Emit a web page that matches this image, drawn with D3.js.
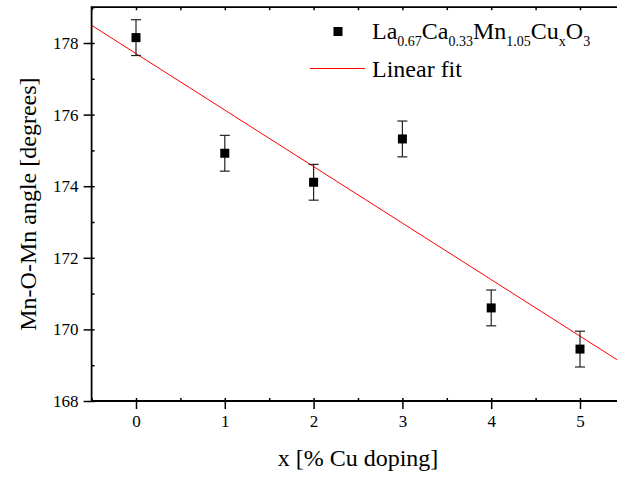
<!DOCTYPE html>
<html><head><meta charset="utf-8">
<script src="https://cdn.jsdelivr.net/npm/d3@7"></script>
<style>body{margin:0;background:#fff}svg{display:block}text{font-family:"Liberation Serif","Times New Roman",serif;fill:#000}</style>
</head><body>
<svg id="c" width="617" height="477"></svg>
<script>
const xValues = [0, 1, 2, 3, 4, 5];
const angleValues = [178.15, 174.92, 174.11, 175.32, 170.6, 169.45];
const angleErrors = [0.5, 0.5, 0.5, 0.5, 0.5, 0.5];
const xTicks = [0, 1, 2, 3, 4, 5];
const yTicks = [168, 170, 172, 174, 176, 178];

const svg = d3.select("#c");
const x = d3.scaleLinear().domain([-0.5, 5.5]).range([91.6, 624.4]);
const y = d3.scaleLinear().domain([168, 179]).range([401, 7.2]);

// least squares fit
const mx = d3.mean(xValues), my = d3.mean(angleValues);
let sxy = 0, sxx = 0;
xValues.forEach((v, i) => { sxy += (v - mx) * (angleValues[i] - my); sxx += (v - mx) * (v - mx); });
const slope = sxy / sxx, intercept = my - slope * mx;
const fitX = [-0.5, 5.5];

svg.append("path")
  .attr("d", d3.line().x(d => x(d)).y(d => y(intercept + slope * d))(fitX))
  .attr("stroke", "#ff0000").attr("stroke-width", 1).attr("fill", "none");

const minorX = d3.range(-0.5, 5.51, 0.5);
const minorY = d3.range(168, 179.01, 1);
function styleAxis(g) {
  g.select(".domain").remove();
  g.attr("font-family", '"Liberation Serif", serif').attr("font-size", 17);
  g.selectAll(".tick line").attr("stroke", "#000").attr("stroke-width", 1.5);
  g.selectAll(".tick text").attr("fill", "#000").attr("font-family", '"Liberation Serif", serif').attr("font-size", 17);
}
const gB = svg.append("g").attr("transform", `translate(0,${y(168)})`);
gB.append("g").call(d3.axisBottom(x).tickValues(minorX).tickSize(-3).tickFormat("")).call(styleAxis);
gB.append("g").call(d3.axisBottom(x).tickValues(xTicks).tickSize(8).tickPadding(6).tickFormat(d3.format("d"))).call(styleAxis);
const gT = svg.append("g").attr("transform", `translate(0,${y(179)})`);
gT.append("g").call(d3.axisTop(x).tickValues(minorX).tickSize(-3).tickFormat("")).call(styleAxis);
const gL = svg.append("g").attr("transform", `translate(${x(-0.5)},0)`);
gL.append("g").call(d3.axisLeft(y).tickValues(minorY).tickSize(-3).tickFormat("")).call(styleAxis);
gL.append("g").call(d3.axisLeft(y).tickValues(yTicks).tickSize(8).tickPadding(5).tickFormat(d3.format("d"))).call(styleAxis);

const frame = svg.append("g").attr("stroke", "#000").attr("stroke-width", 1.8).attr("fill", "none");
frame.append("line").attr("x1", x(-0.5)).attr("x2", x(5.5)).attr("y1", y(168)).attr("y2", y(168));
frame.append("line").attr("x1", x(-0.5)).attr("x2", x(5.5)).attr("y1", y(179)).attr("y2", y(179));
frame.append("line").attr("x1", x(-0.5)).attr("x2", x(-0.5)).attr("y1", y(168) + 0.9).attr("y2", y(179) - 0.9);

// error bars
const eb = svg.append("g").attr("stroke", "#222").attr("stroke-width", 1.2);
xValues.forEach((v, i) => {
  const cx = x(v), y1 = y(angleValues[i] + angleErrors[i]), y2 = y(angleValues[i] - angleErrors[i]);
  eb.append("line").attr("x1", cx).attr("x2", cx).attr("y1", y1).attr("y2", y2);
  eb.append("line").attr("x1", cx - 5).attr("x2", cx + 5).attr("y1", y1).attr("y2", y1);
  eb.append("line").attr("x1", cx - 5).attr("x2", cx + 5).attr("y1", y2).attr("y2", y2);
});
svg.append("g").selectAll("rect").data(xValues).join("rect")
  .attr("x", d => x(d) - 4.5).attr("y", (d, i) => y(angleValues[i]) - 4.5)
  .attr("width", 9).attr("height", 9).attr("fill", "#000");

// axis titles
svg.append("text").attr("x", 358).attr("y", 466).attr("text-anchor", "middle")
  .style("font-size", "24px").text("x [% Cu doping]");
svg.append("text").attr("transform", `translate(36,${(7.2 + 401) / 2}) rotate(-90)`).attr("text-anchor", "middle")
  .style("font-size", "24px").text("Mn-O-Mn angle [degrees]");

// legend
svg.append("rect").attr("x", 333.5).attr("y", 27).attr("width", 9).attr("height", 9).attr("fill", "#000");
const lt = svg.append("text").attr("x", 372).attr("y", 38.5).style("font-size", "24px");
const parts = [["La", 0], ["0.67", 1], ["Ca", 0], ["0.33", 1], ["Mn", 0], ["1.05", 1], ["Cu", 0], ["x", 1], ["O", 0], ["3", 1]];
let prevSub = 0;
parts.forEach(([t, sub]) => {
  const ts = lt.append("tspan").text(t).style("font-size", sub ? "14px" : "24px");
  const dy = sub - prevSub;
  if (dy) ts.attr("dy", dy * 7);
  prevSub = sub;
});
svg.append("line").attr("x1", 310).attr("x2", 365).attr("y1", 68.5).attr("y2", 68.5)
  .attr("stroke", "#ff0000").attr("stroke-width", 1);
svg.append("text").attr("x", 372).attr("y", 76.5).style("font-size", "24px").text("Linear fit");
</script>
</body></html>
